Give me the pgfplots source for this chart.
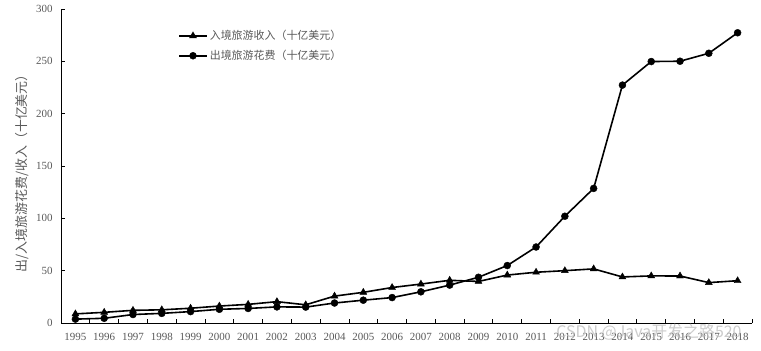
\documentclass[border=0pt]{standalone}
\usepackage{fontspec}
\setmainfont{Liberation Serif}
\newfontfamily\cjk{Noto Sans CJK SC}
\usepackage{pgfplots}
\pgfplotsset{compat=1.18}
\definecolor{txt}{HTML}{595959}
\begin{document}
\begin{tikzpicture}
\useasboundingbox (-61bp,-28bp) rectangle (700bp,323bp);
\begin{axis}[
  at={(0,0)}, anchor=south west,
  scale only axis, width=691bp, height=314bp,
  xmin=-0.5, xmax=23.5, ymin=0, ymax=300,
  axis x line*=bottom, axis y line*=left,
  axis line style={line width=0.8bp, black},
  xtick={0,...,23},
  xticklabels={1995,1996,1997,1998,1999,2000,2001,2002,2003,2004,2005,2006,2007,2008,2009,2010,2011,2012,2013,2014,2015,2016,2017,2018},
  major x tick style={draw=none},
  minor xtick={-0.5,0.5,...,23.5},
  ytick={0,50,...,300},
  tick align=inside,
  major tick length=4bp, minor tick length=4bp,
  tick style={black, line width=0.8bp},
  /pgf/number format/assume math mode=true,
  tick label style={font=\fontsize{11}{13}\selectfont, text=txt},
  xticklabel style={yshift=-7bp},
  yticklabel style={xshift=-5bp},
  ylabel={\cjk 出/入境旅游花费/收入（十亿美元）},
  ylabel style={at={(axis description cs:-0.0564,0.486)}, anchor=center, rotate=0, font=\fontsize{13}{15}\selectfont, text=txt},
  legend style={at={(axis description cs:0.165,0.945)}, anchor=north west, draw=none, fill=none,
    font=\cjk\fontsize{11}{13}\selectfont, text=txt, row sep=5bp},
  legend cell align=left,
]
\addplot[black, line width=1.6bp, mark=triangle*, mark size=4bp, mark options={solid, line width=0.4bp},
  legend image code/.code={\draw[black, line width=1.6bp] (0bp,0bp) -- (28bp,0bp); \draw[black, line width=0.4bp] plot[mark=triangle*, mark size=4bp] coordinates {(14bp,0bp)};}] coordinates {
(0,8.7) (1,10.2) (2,12.1) (3,12.6) (4,14.1) (5,16.2) (6,17.8) (7,20.4) (8,17.4) (9,25.7) (10,29.3) (11,33.9)
(12,37.2) (13,40.8) (14,39.7) (15,45.8) (16,48.5) (17,50.0) (18,51.7) (19,44.0) (20,45.0) (21,44.9) (22,38.6) (23,40.4)};
\addlegendentry{入境旅游收入（十亿美元）}
\addplot[black, line width=1.6bp, mark=*, mark size=3.5bp, mark options={solid, line width=0.4bp},
  legend image code/.code={\draw[black, line width=1.6bp] (0bp,0bp) -- (28bp,0bp); \draw[black, line width=0.4bp] plot[mark=*, mark size=3.5bp] coordinates {(14bp,0bp)};}] coordinates {
(0,3.7) (1,4.5) (2,8.1) (3,9.2) (4,10.9) (5,13.1) (6,13.9) (7,15.4) (8,15.2) (9,19.1) (10,21.8) (11,24.3)
(12,29.8) (13,36.2) (14,43.7) (15,54.9) (16,72.6) (17,102.0) (18,128.6) (19,227.3) (20,249.8) (21,250.1) (22,257.7) (23,277.3)};
\addlegendentry{出境旅游花费（十亿美元）}
\end{axis}
\node[font=\cjk\fontsize{16}{18}\selectfont, text=gray!50, opacity=0.8] at (588bp,-9bp) {CSDN @Java开发之路520};
\end{tikzpicture}
\end{document}
